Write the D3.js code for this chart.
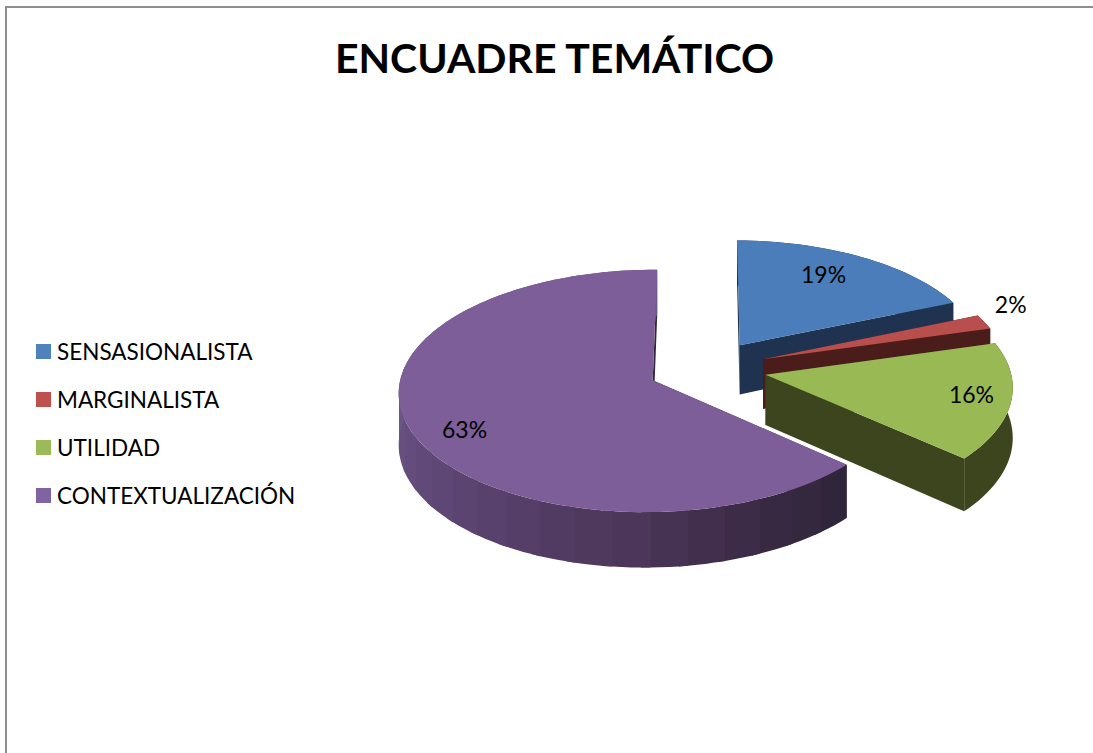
<!DOCTYPE html>
<html>
<head>
<meta charset="utf-8">
<style>
html, body { margin: 0; padding: 0; background: #fff; }
text { font-family: Lato, "Open Sans", sans-serif; fill: #000; }
</style>
</head>
<body>
<script src="https://d3js.org/d3.v7.min.js"></script>
<script>

// chart data (labels show these rounded)
var categories = ["SENSASIONALISTA", "MARGINALISTA", "UTILIDAD", "CONTEXTUALIZACIÓN"];
var percentages = [18.6, 2, 16, 63.4];
var chartTitle = "ENCUADRE TEMÁTICO";

// slice colours: top face and side walls
var topColors = ["#4a7dba", "#b84f4d", "#98b954", "#7e5e99"];
var legendColors = ["#4f81bd", "#c0504d", "#9bbb59", "#8064a2"];
var wallColors = ["#1f3350", "#4a1c1a", "#3d451e", "#32273c"];

var width = 1093, height = 753;

// the 3d pie is a disc on a ground plane, seen in perspective
var cx = 707.5, cy = 368.5,
    rx = 247.5, ry = 118,
    perspective = 0.0876,
    sidePerspective = 0.008,
    depth = 50,
    explode = 0.24;

var xScale = d3.scaleLinear().domain([-1, 1]).range([cx - rx, cx + rx]);
var yScale = d3.scaleLinear().domain([-1, 1]).range([cy - ry, cy + ry]);

function project(gx, gy, drop) {
  var s = 1 / (1 - perspective * gy + sidePerspective * gx);
  return [xScale(gx * s), yScale(gy * s) + (drop ? depth * s : 0)];
}

var svg = d3.select("body").append("svg")
    .attr("width", width)
    .attr("height", height)
    .style("display", "block");

// page frame, only top and left are in the shot
svg.append("path")
    .attr("d", d3.line()([[6, height], [6, 7], [width, 7]]))
    .attr("fill", "none")
    .attr("stroke", "#8e8e8e")
    .attr("stroke-width", 2);

svg.append("text")
    .attr("x", 554.5)
    .attr("y", 73)
    .attr("text-anchor", "middle")
    .style("font-size", "41px")
    .style("font-weight", "700")
    .text(chartTitle);

// pie angles, clockwise from the back of the disc
var pie = d3.pie().sort(null).value(function(d) { return d; });
var slices = pie(percentages);

function sliceGeometry(d) {
  var mid = (d.startAngle + d.endAngle) / 2;
  var ox = explode * Math.sin(mid), oy = -explode * Math.cos(mid);
  var n = Math.max(2, Math.ceil((d.endAngle - d.startAngle) / (Math.PI / 90)));
  var rim = d3.range(n + 1).map(function(i) {
    var a = d.startAngle + (d.endAngle - d.startAngle) * i / n;
    return {a: a, x: ox + Math.sin(a), y: oy - Math.cos(a)};
  });
  return {ox: ox, oy: oy, rim: rim};
}

// the big slice has a shaded outer wall, light on the left and dark on the right
var purpleWall = d3.scaleLinear()
    .domain([270, 225, 180, 150, 133])
    .range(["#6e5789", "#5d4674", "#4c3659", "#382a43", "#30263b"])
    .clamp(true);

var line = d3.line();

slices.forEach(function(d, i) {
  var geo = sliceGeometry(d);
  var g = svg.append("g").attr("class", "slice");
  var first = geo.rim[0], last = geo.rim[geo.rim.length - 1];

  // cut faces
  [first, last].forEach(function(p) {
    g.append("path")
        .attr("d", line([
          project(geo.ox, geo.oy), project(p.x, p.y),
          project(p.x, p.y, true), project(geo.ox, geo.oy, true)
        ]) + "Z")
        .attr("fill", wallColors[i]);
  });

  // outer wall: one piece, except the big slice which is painted band by band
  var bands = i === 3 ? 4 : geo.rim.length;
  for (var k = 0; k < geo.rim.length - 1; k += bands) {
    // one sample of overlap so no seam shows between bands
    var pts = geo.rim.slice(k, k + bands + 2);
    var color = i === 3 ? purpleWall(pts[0].a * 180 / Math.PI) : wallColors[i];
    var upper = pts.map(function(p) { return project(p.x, p.y); });
    var lower = pts.map(function(p) { return project(p.x, p.y, true); }).reverse();
    g.append("path")
        .attr("d", line(upper.concat(lower)) + "Z")
        .attr("fill", color);
  }

  // top face
  var face = [[geo.ox, geo.oy]].concat(geo.rim.map(function(p) { return [p.x, p.y]; }));
  g.append("path")
      .attr("d", line(face.map(function(p) { return project(p[0], p[1]); })) + "Z")
      .attr("fill", topColors[i]);
});

// data labels: radial fraction along the slice middle, then a small nudge
var labelFraction = [0.78, 1.2, 0.8, 0.82];
var labelNudge = [[-13, -1], [-16, -10], [10, -1], [8, 8]];

svg.selectAll(".pct")
    .data(slices)
  .enter().append("text")
    .attr("class", "pct")
    .attr("text-anchor", "middle")
    .attr("dy", "0.35em")
    .style("font-size", "23px")
    .attr("transform", function(d, i) {
      var geo = sliceGeometry(d);
      var mid = (d.startAngle + d.endAngle) / 2;
      var f = labelFraction[i];
      var p = project(geo.ox + f * Math.sin(mid), geo.oy - f * Math.cos(mid));
      return "translate(" + (p[0] + labelNudge[i][0]) + "," + (p[1] + labelNudge[i][1]) + ")";
    })
    .text(function(d) { return d3.format(".0f")(d.data) + "%"; });

// legend
var legendY = d3.scalePoint().domain(categories).range([351.5, 495.5]);

var legend = svg.selectAll(".legend")
    .data(categories)
  .enter().append("g")
    .attr("class", "legend")
    .attr("transform", function(d) { return "translate(36," + legendY(d) + ")"; });

legend.append("rect")
    .attr("y", -7.5)
    .attr("width", 15)
    .attr("height", 15)
    .attr("fill", function(d, i) { return legendColors[i]; });

legend.append("text")
    .attr("x", 21)
    .attr("dy", "0.36em")
    .style("font-size", "22.5px")
    .text(function(d) { return d; });

</script>
</body>
</html>
